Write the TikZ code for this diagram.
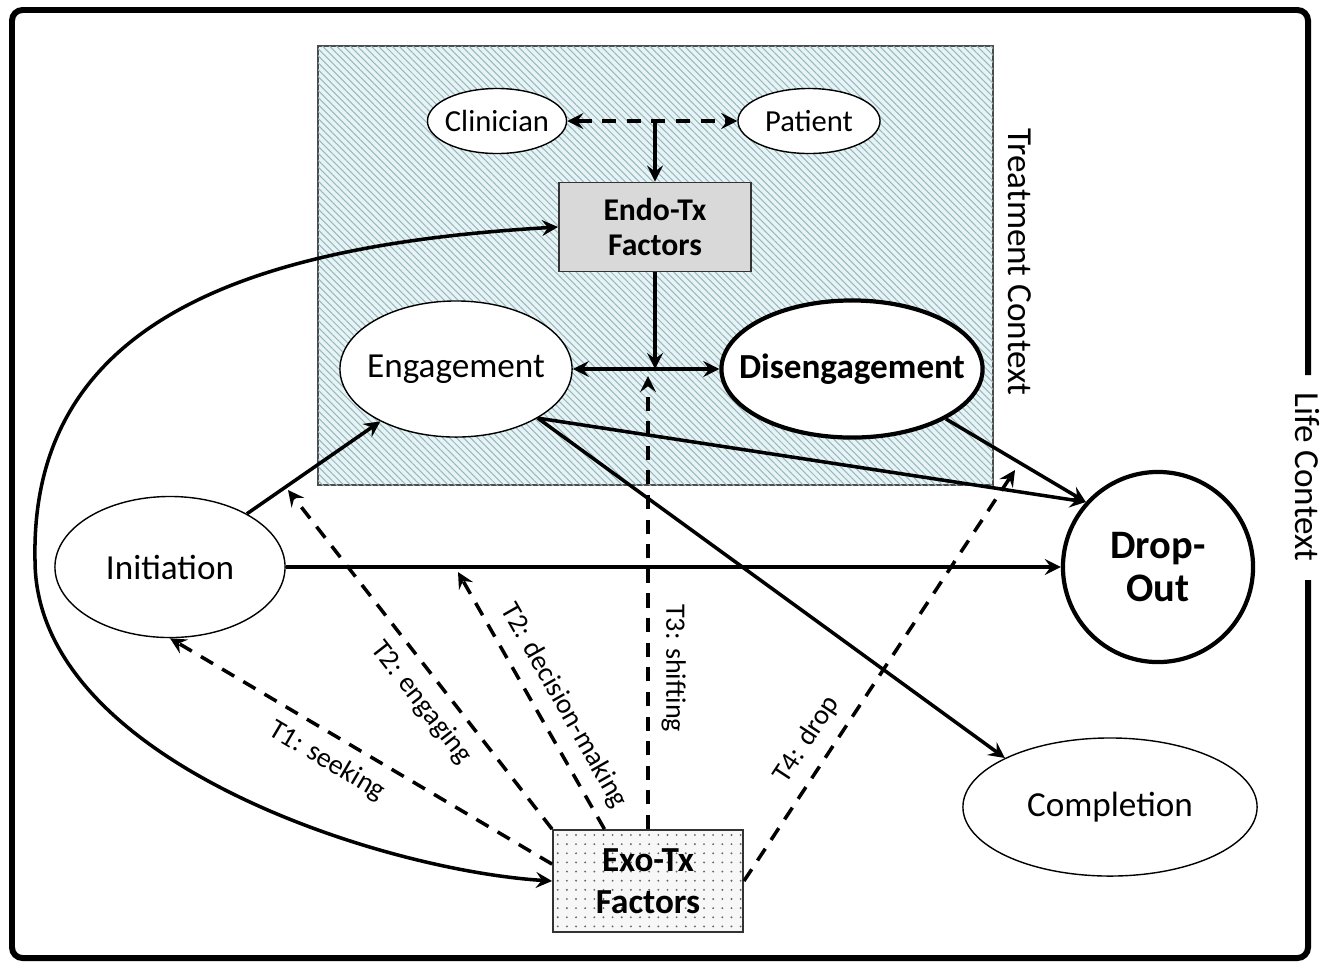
\documentclass[tikz,border=0pt]{standalone}
\usepackage{fontspec}
\setmainfont{Carlito}
\usetikzlibrary{shapes.geometric,patterns.meta}

\definecolor{ctxfill}{RGB}{232,243,245}
\definecolor{ctxhatch}{RGB}{150,185,192}

\tikzset{
  oval/.style={ellipse,draw,fill=white,inner sep=0pt,line width=0.4pt},
  bigoval/.style={oval,line width=1.2pt,font=\bfseries\fontsize{10}{12}\selectfont},
  factor/.style={rectangle,draw=black!80,line width=0.5pt,align=center},
  link/.style={-stealth,line width=1pt},
  dlink/.style={-stealth,line width=1pt,dash pattern=on 4pt off 3pt},
  tlabel/.style={font=\fontsize{8}{9}\selectfont},
}
\newcommand\nowide[1]{\makebox[0pt]{#1}}

\begin{document}
\begin{tikzpicture}[x=0.01cm,y=-0.01cm]
\useasboundingbox (0,0) rectangle (1325,963);
% life context frame
\draw[line width=1.7pt,rounded corners=3pt] (1308,375) -- (1308,10) -- (12,10) -- (12,958) -- (1308,958) -- (1308,580);
\node[rotate=-90,font=\fontsize{10}{12}\selectfont] (life) at (1307,477) {Life Context};

% treatment context
\path[draw=black!70,line width=0.5pt,fill=ctxfill,
  postaction={pattern={Lines[angle=-45,distance=1.4pt,line width=0.3pt]},pattern color=ctxhatch}]
  (318,46) rectangle (993,485);
\node[rotate=-90,font=\fontsize{10}{12}\selectfont] (treat) at (1020,262) {Treatment Context};

% nodes
\node[oval,minimum width=1.39cm,minimum height=0.65cm,font=\fontsize{8.7}{10}\selectfont] (clin) at (497,121) {\nowide{Clinician}};
\node[oval,minimum width=1.42cm,minimum height=0.65cm,font=\fontsize{8.7}{10}\selectfont] (pat) at (809,121) {Patient};
\node[factor,minimum width=1.92cm,minimum height=0.89cm,fill=black!15,
  font=\bfseries\fontsize{9}{10.2}\selectfont] (endo) at (655,227) {Endo-Tx\\Factors};
\node[oval,minimum width=2.32cm,minimum height=1.36cm,font=\fontsize{10}{12}\selectfont] (eng) at (456,369) {\nowide{Engagement}};
\node[bigoval,minimum width=2.61cm,minimum height=1.37cm] (dis) at (852,369) {\nowide{Disengagement}};
\node[oval,minimum width=2.30cm,minimum height=1.41cm,font=\fontsize{10}{12}\selectfont] (init) at (170,567) {Initiation};
\node[circle,draw,fill=white,line width=1.2pt,minimum size=1.9cm,align=center,
  font=\bfseries\fontsize{11.5}{12.2}\selectfont] (drop) at (1158,567) {Drop-\\Out};
\node[oval,minimum width=2.94cm,minimum height=1.38cm,font=\fontsize{10}{12}\selectfont] (compl) at (1110,807) {Completion};
\node[factor,minimum width=1.9cm,minimum height=1.02cm,fill=black!3,
  postaction={pattern={Dots[distance=2.6pt,radius=0.3pt]},pattern color=black!60},
  font=\bfseries\fontsize{10}{11.9}\selectfont] (exo) at (648,881) {Exo-Tx\\Factors};

% free ends of the dashed paths
\coordinate (tE) at (288,490);
\coordinate (tD) at (458,572);
\coordinate (tX) at (1015,470);

% solid paths
\path[link]
  (init) edge (eng)
  (init) edge (drop)
  (eng.-31) edge (drop.138)
  (eng.-31) edge (compl.155)
  (dis.-28) edge (drop.138)
  (endo.south) edge (endo.south |- eng.east)
  (endo.north |- clin.east) edge (endo.north);
\path[link,stealth-stealth]
  (eng) edge (dis);
\path[dlink,stealth-stealth]
  (clin) edge (pat);
\draw[link,stealth-stealth] (endo.west) .. controls (250,245) and (30,320) .. (35,560)
  .. controls (35,760) and (380,870) .. (exo.west);

% dashed paths
\path[dlink]
  (exo.170) edge node[tlabel,sloped,below,pos=0.555] {T1: seeking} (init.south)
  (exo.north west) edge node[tlabel,sloped,below,pos=0.42] {T2: engaging} (tE)
  (exo.130) edge node[tlabel,sloped,above,pos=0.43] {T2: decision-making} (tD)
  (exo.north) edge[shorten >=2pt] node[tlabel,rotate=-90,above,pos=0.35] {T3: shifting} (exo.north |- eng.east)
  (exo.east) edge node[tlabel,sloped,above,pos=0.31] {T4: drop} (tX);
\end{tikzpicture}
\end{document}
